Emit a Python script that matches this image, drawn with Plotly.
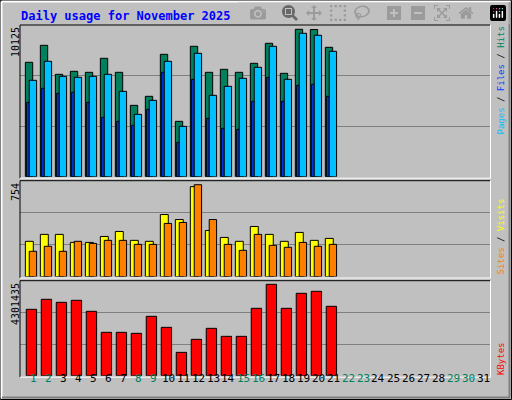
import plotly.graph_objects as go

# Daily usage for November 2025 (webalizer style)
days = list(range(1, 22))
all_days = list(range(1, 32))
weekend_days = [1, 2, 8, 9, 15, 16, 22, 23, 29, 30]

hits = [7857, 9025, 7032, 7239, 7170, 8132, 7170, 4902, 5521, 8407, 3803,
        8957, 7170, 7376, 7170, 7788, 9163, 7101, 10125, 10110, 8888]
pages = [6620, 7926, 6895, 6826, 6895, 7032, 5864, 4284, 5246, 7926, 3459,
         8476, 5589, 6208, 6758, 7514, 8957, 6689, 9850, 9713, 8613]
files = [5108, 6070, 5727, 5795, 5108, 4077, 3803, 3528, 4627, 7170, 2359,
         6689, 4009, 3322, 3253, 5177, 6826, 5177, 6276, 6345, 5521]
visits = [289, 346, 346, 280, 280, 329, 370, 297, 289, 509, 468,
          738, 378, 321, 289, 411, 346, 289, 362, 297, 313]
sites = [207, 248, 207, 289, 272, 297, 297, 264, 264, 436, 444,
         754, 468, 264, 215, 346, 256, 240, 280, 248, 264]
kbytes = [3124000, 3595000, 3453700, 3547900, 3029800, 2040800, 2040800,
          1993700, 2794400, 2276300, 1098900, 1711200, 2229200, 1852400,
          1852400, 3171100, 4301435, 3171100, 3877600, 3971800, 3265300]

max_hits = 10125
max_visits = 754
max_kbytes = 4301435

W, H = 512, 400
BG = '#c0c0c0'
FONT = 'DejaVu Sans Mono'


def px(x):
    return x / W


def py(y):
    return 1 - y / H


x_dom = [px(20), px(490)]
x_range = [0.113, 31.45]
panels = [  # (yaxis name, top px, bottom px, range max)
    ('y', 25, 176.7, 10420),
    ('y2', 180.7, 276.5, 787),
    ('y3', 280.7, 375.7, 4471000),
]

fig = go.Figure()


def add_bar(vals, color, off, width, ax):
    fig.add_trace(go.Bar(
        x=days, y=vals, offset=off, width=width,
        xaxis='x' if ax == 'y' else 'x' + ax[1:], yaxis=ax,
        marker=dict(color=color, line=dict(color='black', width=1)),
        showlegend=False, hoverinfo='skip'
    ))


add_bar(hits, '#00805c', -0.53, 0.49, 'y')
add_bar(files, '#0040ff', -0.44, 0.17, 'y')
add_bar(pages, '#00c0ff', -0.27, 0.49, 'y')
add_bar(visits, '#ffff00', -0.53, 0.53, 'y2')
add_bar(sites, '#ff8000', -0.27, 0.49, 'y2')
add_bar(kbytes, '#ff0000', -0.47, 0.69, 'y3')

layout = dict(
    width=W, height=H, margin=dict(l=0, r=0, t=0, b=0),
    paper_bgcolor=BG, plot_bgcolor=BG, barmode='overlay',
    font=dict(family=FONT, size=11, color='black'),
)
for i, (ax, top, bot, rmax) in enumerate(panels):
    xa = 'xaxis' if i == 0 else 'xaxis%d' % (i + 1)
    ya = 'yaxis' if i == 0 else 'yaxis%d' % (i + 1)
    layout[xa] = dict(domain=x_dom, range=x_range, showticklabels=False,
                      showgrid=False, zeroline=False, fixedrange=True,
                      anchor=ax)
    layout[ya] = dict(domain=[py(bot), py(top)], range=[0, rmax],
                      tickvals=[rmax / 3, 2 * rmax / 3], showticklabels=False,
                      ticks='', gridcolor='#808080', gridwidth=1,
                      zeroline=False, anchor='x' if i == 0 else 'x%d' % (i + 1))
fig.update_layout(**layout)

shapes = []


def line(x0, y0, x1, y1, color, w=1):
    shapes.append(dict(type='line', xref='paper', yref='paper',
                       x0=px(x0), y0=py(y0), x1=px(x1), y1=py(y1),
                       line=dict(color=color, width=w)))


# outer bevel frame
line(0.5, 0.5, 511.5, 0.5, 'black')
line(0.5, 0.5, 0.5, 399.5, 'black')
line(511.5, 0.5, 511.5, 399.5, 'black')
line(0.5, 399.5, 511.5, 399.5, 'black')
line(1.5, 1.5, 510.5, 1.5, 'white', 2)
line(1.5, 1.5, 1.5, 398.5, 'white', 2)
line(509.5, 2, 509.5, 398, '#808080', 2)
line(2, 397.5, 510, 397.5, '#808080', 2)

# sunken panel borders
for ax, top, bot, rmax in panels:
    line(20, top, 490, top, 'black')
    line(20, top, 20, bot + 1.5, 'black')
    line(20, bot + 1.5, 491, bot + 1.5, 'white')
    line(490.5, top, 490.5, bot + 1.5, 'white')

annotations = [
    dict(text='<b>Daily usage for November 2025</b>', x=px(19), y=py(16),
         xref='paper', yref='paper',
         xanchor='left', yanchor='middle', showarrow=False,
         font=dict(family=FONT, size=12, color='#0000ff')),
]
for txt, top in [(str(max_hits), 25), (str(max_visits), 181),
                 (str(max_kbytes), 281)]:
    annotations.append(dict(text=txt, x=px(15), y=py(top), textangle=-90,
                            xref='paper', yref='paper',
                            xanchor='center', yanchor='top', showarrow=False,
                            font=dict(family=FONT, size=10)))

legend_txt = [
    ("<span style='color:#00c0ff'>Pages</span> / "
     "<span style='color:#0040ff'>Files</span> / "
     "<span style='color:#00805c'>Hits</span>", 137),
    ("<span style='color:#ff8000'>Sites</span> / "
     "<span style='color:#ffff00'>Visits</span>", 277),
    ("<span style='color:#ff0000'>KBytes</span>", 377),
]
for txt, bot in legend_txt:
    annotations.append(dict(text=txt, x=px(500.5), y=py(bot), textangle=-90,
                            xref='paper', yref='paper',
                            xanchor='center', yanchor='bottom',
                            showarrow=False,
                            font=dict(family=FONT, size=9, color='black')))

for d in all_days:
    annotations.append(dict(text=str(d), x=d, xref='x3', y=py(387),
                            yref='paper', showarrow=False,
                            font=dict(family=FONT, size=11,
                                      color='#00805c' if d in weekend_days
                                      else 'black')))

fig.update_layout(shapes=shapes, annotations=annotations)
fig.write_html("out.html",
               post_script="document.body.style.margin='0';")
